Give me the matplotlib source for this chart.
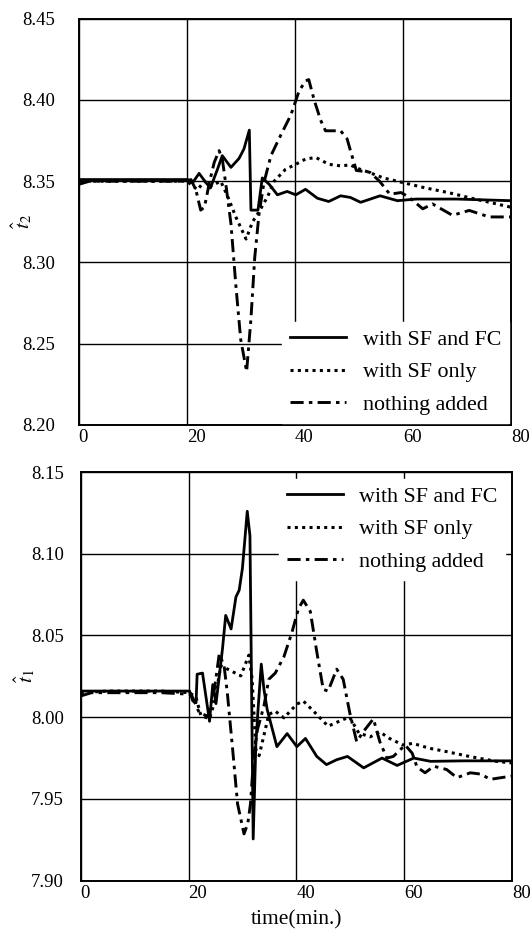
import matplotlib
matplotlib.use('Agg')
from matplotlib import pyplot as plt

plt.rcParams['font.family'] = ['Liberation Serif', 'DejaVu Serif']
plt.rcParams['mathtext.fontset'] = 'stix'

# ---- upper panel: t2 estimate ----
t2_fc_x = [0, 5, 10, 15, 19.5, 20.2, 21.1, 22.3, 23.6, 24.4, 25.7, 26.6, 28.2, 29.7, 30.6, 31.6, 31.9,
           33.2, 34.0, 35.3, 36.8, 38.6, 40.2, 42.0, 44.2, 46.3, 48.5, 50.3, 52.2, 55.8, 59.0, 62.5, 70, 80]
t2_fc_y = [8.351, 8.351, 8.351, 8.351, 8.351, 8.351, 8.349, 8.3548, 8.349, 8.3458, 8.3573, 8.3657, 8.3585,
           8.364, 8.3698, 8.3814, 8.3322, 8.3322, 8.352, 8.348, 8.3416, 8.3437, 8.3416, 8.345, 8.3395, 8.3375,
           8.341, 8.340, 8.337, 8.341, 8.338, 8.339, 8.339, 8.338]

t2_sf_x = [0, 5, 10, 15, 20, 20.8, 22.0, 23.3, 24.5, 26.3, 27.6, 29.1, 31.0, 32.2, 33.4, 35.0, 36.2, 38.3,
           40.2, 42.0, 43.9, 46.3, 48.5, 50.3, 51.5, 53.3, 56.4, 60.2, 64, 68.4, 73.4, 80]
t2_sf_y = [8.350, 8.350, 8.350, 8.350, 8.350, 8.348, 8.3447, 8.350, 8.347, 8.350, 8.3406, 8.328, 8.3144,
           8.325, 8.3312, 8.3406, 8.350, 8.3573, 8.3604, 8.3636, 8.3646, 8.3604, 8.3594, 8.360, 8.358, 8.356,
           8.352, 8.349, 8.346, 8.343, 8.339, 8.334]

t2_no_x = [0, 2, 5, 10, 15, 20, 20.8, 21.7, 22.6, 23.3, 24.2, 25.1, 26.0, 26.6, 27.3, 28.2, 29.1, 30.0,
           31.1, 31.9, 32.6, 33.4, 34.3, 35.6, 37.4, 39.3, 40.8, 42.0, 42.6, 43.6, 44.8, 45.7, 47.3, 48.5,
           49.7, 50.3, 51.4, 53.9, 55.7, 57.6, 59.7, 61.2, 63.7, 65.5, 69.2, 72.3, 76, 80]
t2_no_y = [8.348, 8.350, 8.350, 8.350, 8.350, 8.350, 8.351, 8.3447, 8.3322, 8.334, 8.349, 8.3615, 8.3688,
           8.3636, 8.3469, 8.3238, 8.2862, 8.2528, 8.2329, 8.2653, 8.303, 8.330, 8.349, 8.3657, 8.3782,
           8.3908, 8.4054, 8.4117, 8.4125, 8.400, 8.3875, 8.381, 8.381, 8.381, 8.376, 8.369, 8.3566,
           8.3555, 8.350, 8.342, 8.343, 8.340, 8.333, 8.336, 8.329, 8.332, 8.328, 8.328]

# ---- lower panel: t1 estimate ----
t1_fc_x = [0, 5, 10, 15, 20.2, 20.8, 21.4, 21.6, 22.6, 23.9, 24.5, 25.1, 26.3, 26.9, 27.9, 28.8, 29.4,
           30.0, 30.9, 31.4, 32.0, 32.5, 32.9, 33.5, 34.0, 34.6, 36.4, 38.3, 40.1, 41.7, 43.8, 45.6, 47.5,
           49.5, 52.5, 55.9, 58.7, 61.8, 64.9, 71.1, 80]
t1_fc_y = [8.016, 8.016, 8.016, 8.016, 8.016, 8.0099, 8.0089, 8.0263, 8.027, 7.9975, 8.020, 8.0083, 8.0417,
           8.0623, 8.054, 8.0736, 8.0777, 8.091, 8.126, 8.111, 7.9255, 7.984, 8.0047, 8.0325, 8.017, 8.0047,
           7.982, 7.990, 7.982, 7.987, 7.976, 7.971, 7.974, 7.976, 7.969, 7.975, 7.9705, 7.975, 7.973,
           7.9733, 7.9733]

t1_sf_x = [0, 5, 10, 15, 20.2, 21.4, 22.3, 23.9, 24.8, 26.0, 27.2, 29.7, 31.2, 31.8, 32.5, 33.1, 34.0, 34.9,
           36.1, 37.7, 40.1, 41.3, 43.2, 45.9, 48.7, 49.9, 51.6, 53.7, 55.5, 57.3, 59.8, 61.6, 64.7, 67.8,
           72.1, 77.1, 80]
t1_sf_y = [8.015, 8.016, 8.016, 8.016, 8.015, 8.012, 8.001, 7.999, 8.009, 8.0315, 8.0295, 8.0253, 8.038,
           8.0235, 7.980, 7.9765, 7.989, 8.0017, 8.0037, 7.9996, 8.008, 8.0099, 8.0037, 7.9945, 7.9986, 8.000,
           7.9903, 7.988, 7.991, 7.987, 7.983, 7.984, 7.981, 7.979, 7.976, 7.973, 7.972]

t1_no_x = [0, 2, 5, 10, 15, 20.5, 22.0, 23.6, 24.8, 25.7, 26.6, 27.2, 28.2, 29.1, 30.3, 31.0, 31.5, 32.1,
           32.8, 34.0, 34.9, 36.1, 37.7, 39.2, 40.4, 41.3, 42.6, 43.8, 45.0, 45.9, 47.5, 48.7, 49.9, 51.2,
           52.4, 54.3, 55.5, 56.8, 58.0, 60.2, 61.5, 62.4, 63.9, 65.5, 67.9, 69.8, 72.3, 74.2, 76.0, 80]
t1_no_y = [8.013, 8.015, 8.015, 8.015, 8.015, 8.014, 8.0027, 8.0006, 8.017, 8.0386, 8.0315, 8.015, 7.980,
           7.947, 7.9286, 7.935, 7.947, 7.976, 7.9925, 8.007, 8.0232, 8.027, 8.037, 8.052, 8.0664, 8.0716,
           8.0647, 8.040, 8.017, 8.016, 8.0294, 8.0232, 8.003, 7.985, 7.991, 7.999, 7.985, 7.975, 7.976,
           7.983, 7.978, 7.9695, 7.966, 7.970, 7.968, 7.963, 7.966, 7.9652, 7.962, 7.964]

labels = ['with SF and FC', 'with SF only', 'nothing added']
x_ticks = [0, 20, 40, 60, 80]
t2_ticks = [8.20, 8.25, 8.30, 8.35, 8.40, 8.45]
t1_ticks = [7.90, 7.95, 8.00, 8.05, 8.10, 8.15]

styles = [dict(ls='-', lw=2.0),
          dict(ls=(0, (1, 1.4)), lw=2.2),
          dict(ls=(0, (4.5, 1.8, 1.2, 1.8)), lw=2.1)]

fig = plt.figure(figsize=(5.31, 9.32), dpi=100)
ax_top = fig.add_axes([0.148, 0.544, 0.814, 0.436])
ax_bot = fig.add_axes([0.152, 0.0551, 0.812, 0.4384])


def draw(ax, series, ticks, ylab, ypad, legloc, labx, legpad):
    for (xs, ys), st, lab in zip(series, styles, labels):
        ax.plot(xs, ys, color='black', label=lab, **st)
    ax.set_xlim(0, 80)
    ax.set_ylim(ticks[0], ticks[-1])
    ax.set_xticks(x_ticks)
    ax.set_yticks(ticks)
    ax.set_yticklabels(['%.2f' % t for t in ticks])
    for lab in ax.get_xticklabels():
        lab.set_ha('left')
    ax.tick_params(length=0, labelsize=13.5)
    ax.tick_params(axis='y', pad=ypad)
    ax.tick_params(axis='x', pad=3)
    ax.grid(color='black', lw=1.0)
    ax.set_axisbelow(True)
    for sp in ax.spines.values():
        sp.set_linewidth(1.4)
    ax.set_ylabel(ylab, fontsize=15)
    ax.yaxis.set_label_coords(labx, 0.5)
    ax.yaxis.label.set_va('center')
    leg = ax.legend(loc=legloc, fontsize=15.8, frameon=True, fancybox=False,
                    edgecolor='white', facecolor='white', framealpha=1,
                    handlelength=2.55, handletextpad=0.75, labelspacing=0.56,
                    borderaxespad=legpad, borderpad=0.35)
    leg.set_zorder(5)


draw(ax_top, [(t2_fc_x, t2_fc_y), (t2_sf_x, t2_sf_y), (t2_no_x, t2_no_y)],
     t2_ticks, r'$\hat{t}_2$', 17, 'lower right', -0.132, 0.1)
draw(ax_bot, [(t1_fc_x, t1_fc_y), (t1_sf_x, t1_sf_y), (t1_no_x, t1_no_y)],
     t1_ticks, r'$\hat{t}_1$', 12, 'upper right', -0.130, 0.3)
ax_bot.set_xlabel('time(min.)', fontsize=15.5)
ax_bot.xaxis.set_label_coords(0.5, -0.096)
ax_bot.xaxis.label.set_va('center')

fig.savefig('out.png', dpi=100)
